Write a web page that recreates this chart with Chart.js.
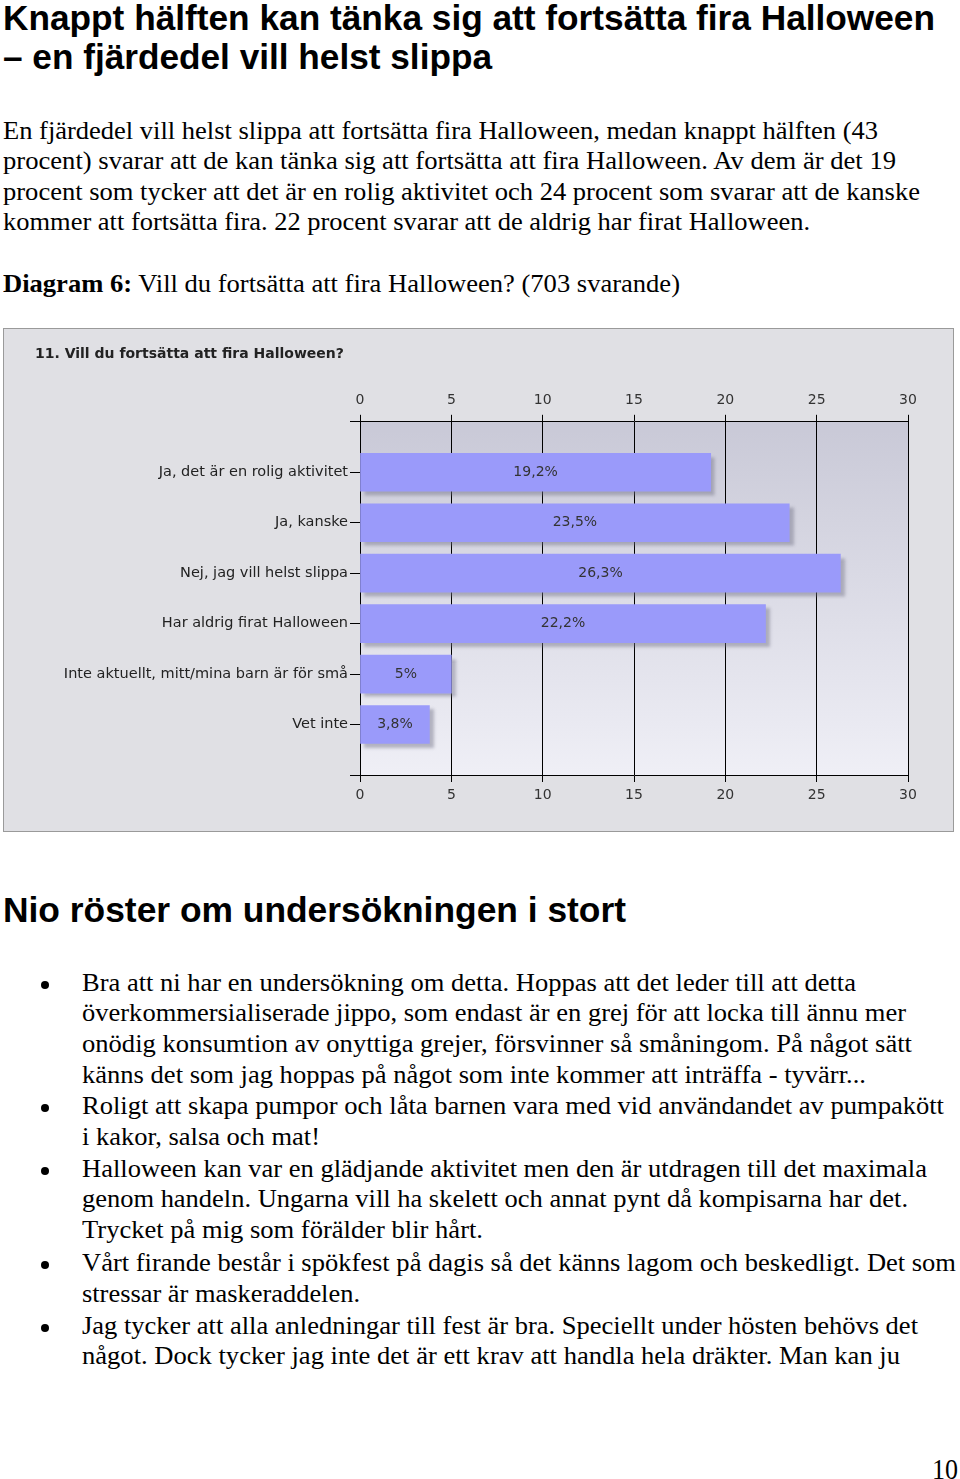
<!DOCTYPE html>
<html>
<head>
<meta charset="utf-8">
<script src="https://cdn.jsdelivr.net/npm/chart.js@4"></script>
<style>
body { margin: 0; background: #fff; width: 960px; height: 1479px; position: relative; overflow: hidden; }
.l { position: absolute; white-space: nowrap; transform-origin: 0 0; color: #000; }
.h { font-family: "Liberation Sans", Arial, Helvetica, sans-serif; font-weight: bold; font-size: 35px; line-height: 40px; }
.t { font-family: "Liberation Serif", "Times New Roman", Times, serif; font-size: 25px; line-height: 30px; }
.dot { position: absolute; width: 8px; height: 8px; border-radius: 50%; background: #000; }
#panel { position: absolute; left: 3px; top: 328px; width: 949px; height: 502px; border: 1px solid #9a9a9a; background: #e0e0e4; }
</style>
</head>
<body>

<div class="l h" style="left:3px;top:-2px" data-w="932">Knappt hälften kan tänka sig att fortsätta fira Halloween</div>
<div class="l h" style="left:3px;top:37px" data-w="489">– en fjärdedel vill helst slippa</div>

<div class="l t" style="left:3px;top:116px" data-w="875">En fjärdedel vill helst slippa att fortsätta fira Halloween, medan knappt hälften (43</div>
<div class="l t" style="left:3px;top:146px" data-w="893">procent) svarar att de kan tänka sig att fortsätta att fira Halloween. Av dem är det 19</div>
<div class="l t" style="left:3px;top:177px" data-w="917">procent som tycker att det är en rolig aktivitet och 24 procent som svarar att de kanske</div>
<div class="l t" style="left:3px;top:207px" data-w="807">kommer att fortsätta fira. 22 procent svarar att de aldrig har firat Halloween.</div>
<div class="l t" style="left:3px;top:269px" data-w="677"><b>Diagram 6:</b> Vill du fortsätta att fira Halloween? (703 svarande)</div>

<div id="panel"><canvas id="chart" width="949" height="502"></canvas></div>

<div class="l h" style="left:3px;top:890px" data-w="623">Nio röster om undersökningen i stort</div>

<div class="dot" style="left:41px;top:981px"></div>
<div class="l t" style="left:82px;top:968px" data-w="774">Bra att ni har en undersökning om detta. Hoppas att det leder till att detta</div>
<div class="l t" style="left:82px;top:998px" data-w="824">överkommersialiserade jippo, som endast är en grej för att locka till ännu mer</div>
<div class="l t" style="left:82px;top:1029px" data-w="830">onödig konsumtion av onyttiga grejer, försvinner så småningom. På något sätt</div>
<div class="l t" style="left:82px;top:1060px" data-w="784">känns det som jag hoppas på något som inte kommer att inträffa - tyvärr...</div>
<div class="dot" style="left:41px;top:1104px"></div>
<div class="l t" style="left:82px;top:1091px" data-w="862">Roligt att skapa pumpor och låta barnen vara med vid användandet av pumpakött</div>
<div class="l t" style="left:82px;top:1122px" data-w="238">i kakor, salsa och mat!</div>
<div class="dot" style="left:41px;top:1167px"></div>
<div class="l t" style="left:82px;top:1154px" data-w="845">Halloween kan var en glädjande aktivitet men den är utdragen till det maximala</div>
<div class="l t" style="left:82px;top:1184px" data-w="826">genom handeln. Ungarna vill ha skelett och annat pynt då kompisarna har det.</div>
<div class="l t" style="left:82px;top:1215px" data-w="401">Trycket på mig som förälder blir hårt.</div>
<div class="dot" style="left:41px;top:1261px"></div>
<div class="l t" style="left:82px;top:1248px" data-w="874">Vårt firande består i spökfest på dagis så det känns lagom och beskedligt. Det som</div>
<div class="l t" style="left:82px;top:1279px" data-w="278">stressar är maskeraddelen.</div>
<div class="dot" style="left:41px;top:1324px"></div>
<div class="l t" style="left:82px;top:1311px" data-w="836">Jag tycker att alla anledningar till fest är bra. Speciellt under hösten behövs det</div>
<div class="l t" style="left:82px;top:1341px" data-w="818">något. Dock tycker jag inte det är ett krav att handla hela dräkter. Man kan ju</div>

<div class="l t" style="left:932px;top:1452px;font-size:29px;line-height:34px" data-w="26">10</div>

<script>
// squeeze each text line to the width it has in the scanned page
document.querySelectorAll('[data-w]').forEach(function (el) {
  var w = el.getBoundingClientRect().width;
  el.style.transform = 'scaleX(' + (el.dataset.w / w) + ')';
});

var categories = [
  "Ja, det är en rolig aktivitet",
  "Ja, kanske",
  "Nej, jag vill helst slippa",
  "Har aldrig firat Halloween",
  "Inte aktuellt, mitt/mina barn är för små",
  "Vet inte"
];
var percentages = [19.2, 23.5, 26.3, 22.2, 5, 3.8];
var xTicks = [0, 5, 10, 15, 20, 25, 30];

var tickFont = {family: "DejaVu Sans", size: 14};

// gradient behind the bars
var plotBackground = {
  id: "plotBackground",
  beforeDraw: function (chart) {
    var ctx = chart.ctx, a = chart.chartArea;
    var g = ctx.createLinearGradient(0, a.top, 0, a.bottom);
    g.addColorStop(0, "#c9c9d7");
    g.addColorStop(1, "#efeff6");
    ctx.save();
    ctx.fillStyle = g;
    ctx.fillRect(a.left, a.top, a.right - a.left, a.bottom - a.top);
    ctx.restore();
  }
};

// drop shadow on bars + the percent labels
var barExtras = {
  id: "barExtras",
  beforeDatasetsDraw: function (chart) {
    var ctx = chart.ctx;
    ctx.save();
    ctx.shadowColor = "rgba(110,110,130,0.45)";
    ctx.shadowOffsetX = 4;
    ctx.shadowOffsetY = 4;
    ctx.shadowBlur = 3;
  },
  afterDatasetsDraw: function (chart) {
    var ctx = chart.ctx;
    ctx.restore();
    ctx.save();
    ctx.fillStyle = "#333";
    ctx.font = "14px 'DejaVu Sans'";
    ctx.textAlign = "center";
    ctx.textBaseline = "middle";
    chart.getDatasetMeta(0).data.forEach(function (bar, i) {
      var label = String(percentages[i]).replace(".", ",") + "%";
      ctx.fillText(label, (bar.base + bar.x) / 2, bar.y);
    });
    ctx.restore();
  }
};

new Chart("chart", {
  type: "bar",
  data: {
    datasets: [{
      data: percentages.map(function (v, i) { return {x: v, y: i}; }),
      backgroundColor: "#9a9afa",
      borderWidth: 0,
      barThickness: 38
    }]
  },
  options: {
    indexAxis: "y",
    responsive: false,
    animation: false,
    layout: {padding: {left: 31, right: 45, top: 0, bottom: 0}},
    plugins: {
      legend: {display: false},
      tooltip: {enabled: false},
      title: {
        display: true,
        text: "11. Vill du fortsätta att fira Halloween?",
        align: "start",
        color: "#222",
        font: {family: "DejaVu Sans", size: 14, weight: "bold"},
        padding: {top: 17, bottom: 13}
      }
    },
    scales: {
      x: {
        type: "linear",
        position: "top",
        min: xTicks[0],
        max: xTicks[xTicks.length - 1],
        ticks: {stepSize: xTicks[1] - xTicks[0], color: "#333", font: tickFont, padding: 6},
        grid: {color: "#000", lineWidth: 1, tickLength: 7},
        border: {color: "#000"},
        afterFit: function (s) { s.height = 46; }
      },
      x2: {
        type: "linear",
        position: "bottom",
        display: true,
        min: xTicks[0],
        max: xTicks[xTicks.length - 1],
        ticks: {stepSize: xTicks[1] - xTicks[0], color: "#333", font: tickFont, padding: 5},
        grid: {drawOnChartArea: false, color: "#000", tickLength: 7},
        border: {color: "#000"},
        afterFit: function (s) { s.height = 56; }
      },
      y: {
        type: "linear",
        offset: false,
        min: -1,
        max: categories.length,
        reverse: true,
        ticks: {
          stepSize: 1,
          autoSkip: false,
          color: "#222",
          font: {family: "DejaVu Sans", size: 14.5},
          padding: 2,
          callback: function (v) { return categories[v] || ""; }
        },
        grid: {drawOnChartArea: false, offset: false, color: "#000", tickLength: 10},
        border: {color: "#000"},
        afterFit: function (s) { s.width = 325; }
      }
    }
  },
  plugins: [plotBackground, barExtras]
});
</script>
</body>
</html>
